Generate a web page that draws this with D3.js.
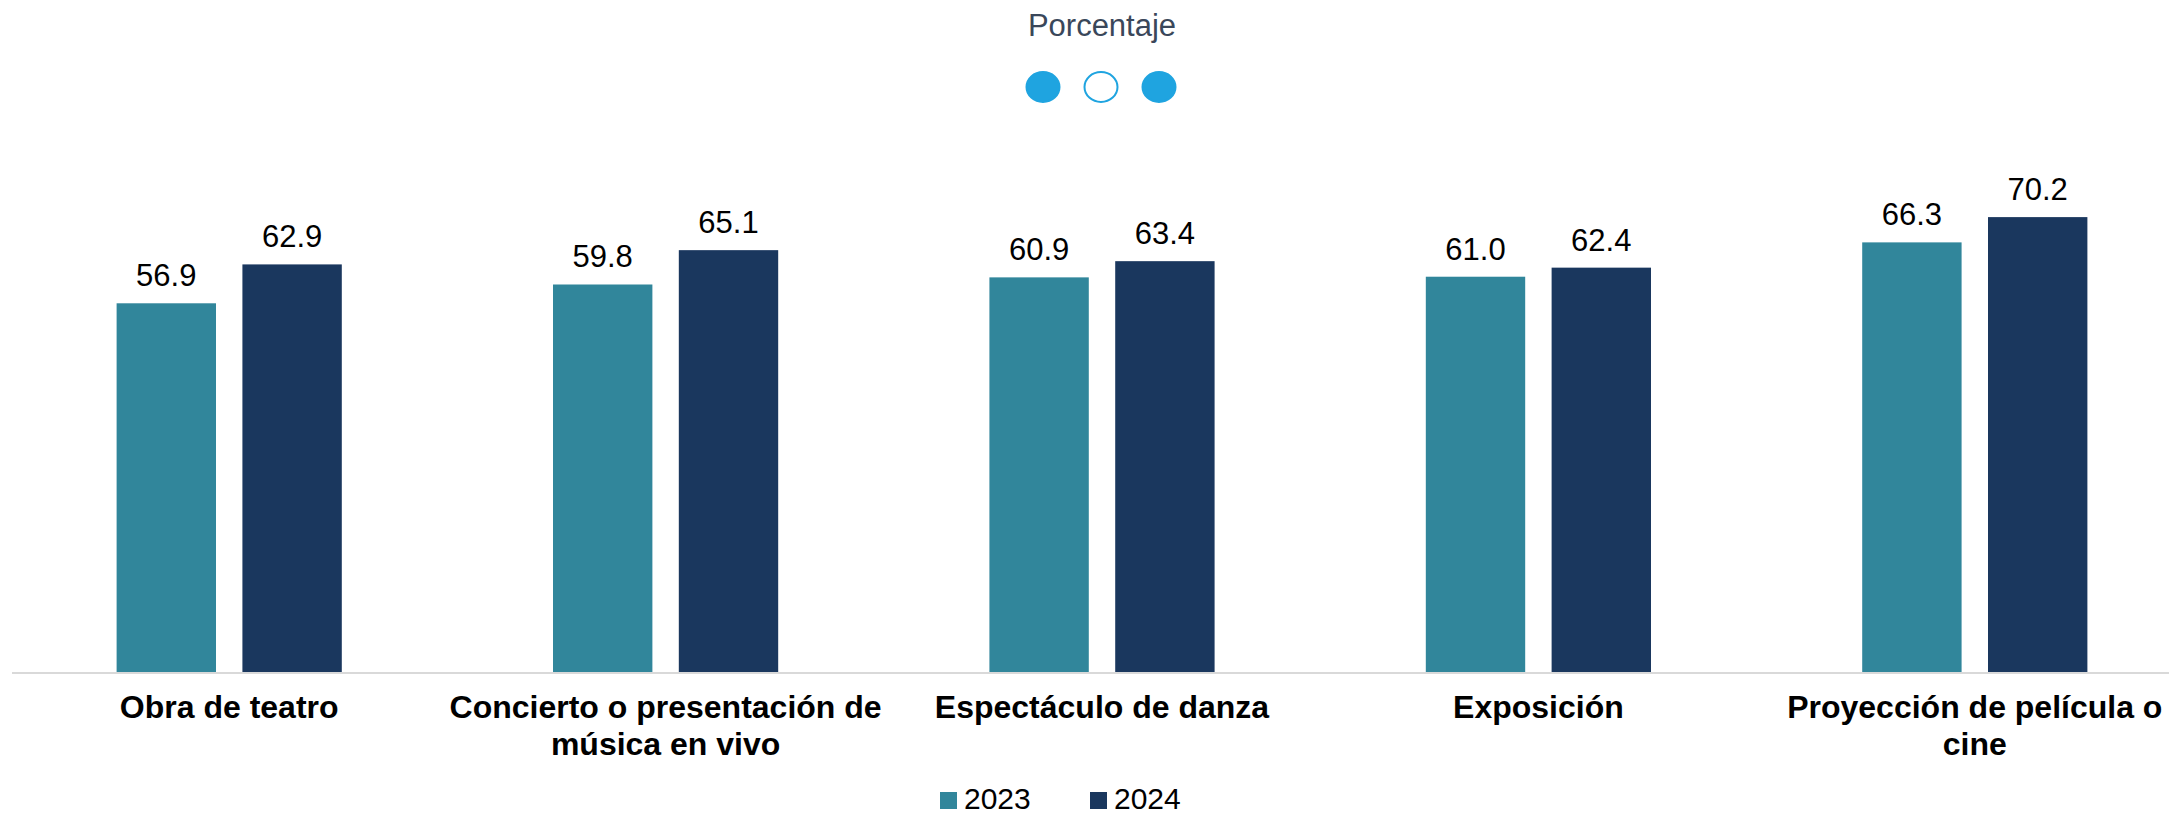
<!DOCTYPE html>
<html>
<head>
<meta charset="utf-8">
<script src="https://cdn.jsdelivr.net/npm/d3@7"></script>
<style>
    body { margin: 0; background: #ffffff; }
    svg { display: block; font-family: "Liberation Sans", Arial, sans-serif; }
</style>
</head>
<body>
<svg id="chart"></svg>
<script>
const categories = [
    ["Obra de teatro"],
    ["Concierto o presentación de", "música en vivo"],
    ["Espectáculo de danza"],
    ["Exposición"],
    ["Proyección de película o", "cine"]
];
const seriesNames = ["2023", "2024"];
const values2023 = [56.9, 59.8, 60.9, 61.0, 66.3];
const values2024 = [62.9, 65.1, 63.4, 62.4, 70.2];
const colors = ["#31869b", "#1a375e"];

const width = 2169;
const height = 816;
const baseline = 672;

const svg = d3.select("#chart").attr("width", width).attr("height", height);

const rows = categories.map((c, i) => ({
    key: c.join(" "),
    lines: c,
    vals: [values2023[i], values2024[i]]
}));

// Scales
const xScale = d3.scaleBand()
    .domain(rows.map(r => r.key))
    .range([11, 2193])
    .paddingInner(0.484)
    .paddingOuter(0.242);

const xInner = d3.scaleBand()
    .domain(seriesNames)
    .range([0, xScale.bandwidth()])
    .paddingInner(0.21);

const yScale = d3.scaleLinear()
    .domain([0, 100])
    .range([baseline, 24]);

// Title
svg.append("text")
    .attr("x", 1102)
    .attr("y", 36)
    .attr("text-anchor", "middle")
    .style("font-size", "31px")
    .style("fill", "#3a475a")
    .text("Porcentaje");

// Decorative dots
const dots = [true, false, true];
svg.selectAll(".dot")
    .data(dots)
    .enter()
    .append("ellipse")
    .attr("class", "dot")
    .attr("cx", (d, i) => 1043 + i * 58)
    .attr("cy", 87)
    .attr("rx", 16.5)
    .attr("ry", 15)
    .attr("fill", d => d ? "#1fa4e0" : "#ffffff")
    .attr("stroke", "#1fa4e0")
    .attr("stroke-width", 2);

// Bars
const groups = svg.selectAll(".group")
    .data(rows)
    .enter()
    .append("g")
    .attr("class", "group")
    .attr("transform", r => `translate(${xScale(r.key)},0)`);

groups.selectAll("rect")
    .data(r => r.vals.map((v, j) => ({ name: seriesNames[j], v, j })))
    .enter()
    .append("rect")
    .attr("x", d => xInner(d.name))
    .attr("y", d => yScale(d.v))
    .attr("width", xInner.bandwidth())
    .attr("height", d => baseline - yScale(d.v))
    .attr("fill", d => colors[d.j]);

groups.selectAll(".value")
    .data(r => r.vals.map((v, j) => ({ name: seriesNames[j], v, j })))
    .enter()
    .append("text")
    .attr("class", "value")
    .attr("x", d => xInner(d.name) + xInner.bandwidth() / 2)
    .attr("y", d => yScale(d.v) - 17)
    .attr("text-anchor", "middle")
    .style("font-size", "31px")
    .style("fill", "#000")
    .text(d => d3.format(".1f")(d.v));

// X axis line
svg.append("line")
    .attr("x1", 12)
    .attr("x2", width)
    .attr("y1", baseline + 1)
    .attr("y2", baseline + 1)
    .attr("stroke", "#d9d9d9")
    .attr("stroke-width", 2);

// Category labels
const labels = svg.selectAll(".cat")
    .data(rows)
    .enter()
    .append("text")
    .attr("class", "cat")
    .attr("text-anchor", "middle")
    .style("font-size", "32px")
    .style("font-weight", "bold")
    .style("fill", "#000");

labels.selectAll("tspan")
    .data(r => r.lines.map(l => ({ l, x: xScale(r.key) + xScale.bandwidth() / 2 })))
    .enter()
    .append("tspan")
    .attr("x", d => d.x)
    .attr("y", (d, i) => 718 + i * 37)
    .text(d => d.l);

// Legend
const legend = svg.selectAll(".legend")
    .data(seriesNames)
    .enter()
    .append("g")
    .attr("class", "legend")
    .attr("transform", (d, i) => `translate(${940 + i * 150},0)`);

legend.append("rect")
    .attr("x", 0)
    .attr("y", 792)
    .attr("width", 17)
    .attr("height", 17)
    .attr("fill", (d, i) => colors[i]);

legend.append("text")
    .attr("x", 24)
    .attr("y", 809)
    .style("font-size", "30px")
    .style("fill", "#000")
    .text(d => d);
</script>
</body>
</html>
